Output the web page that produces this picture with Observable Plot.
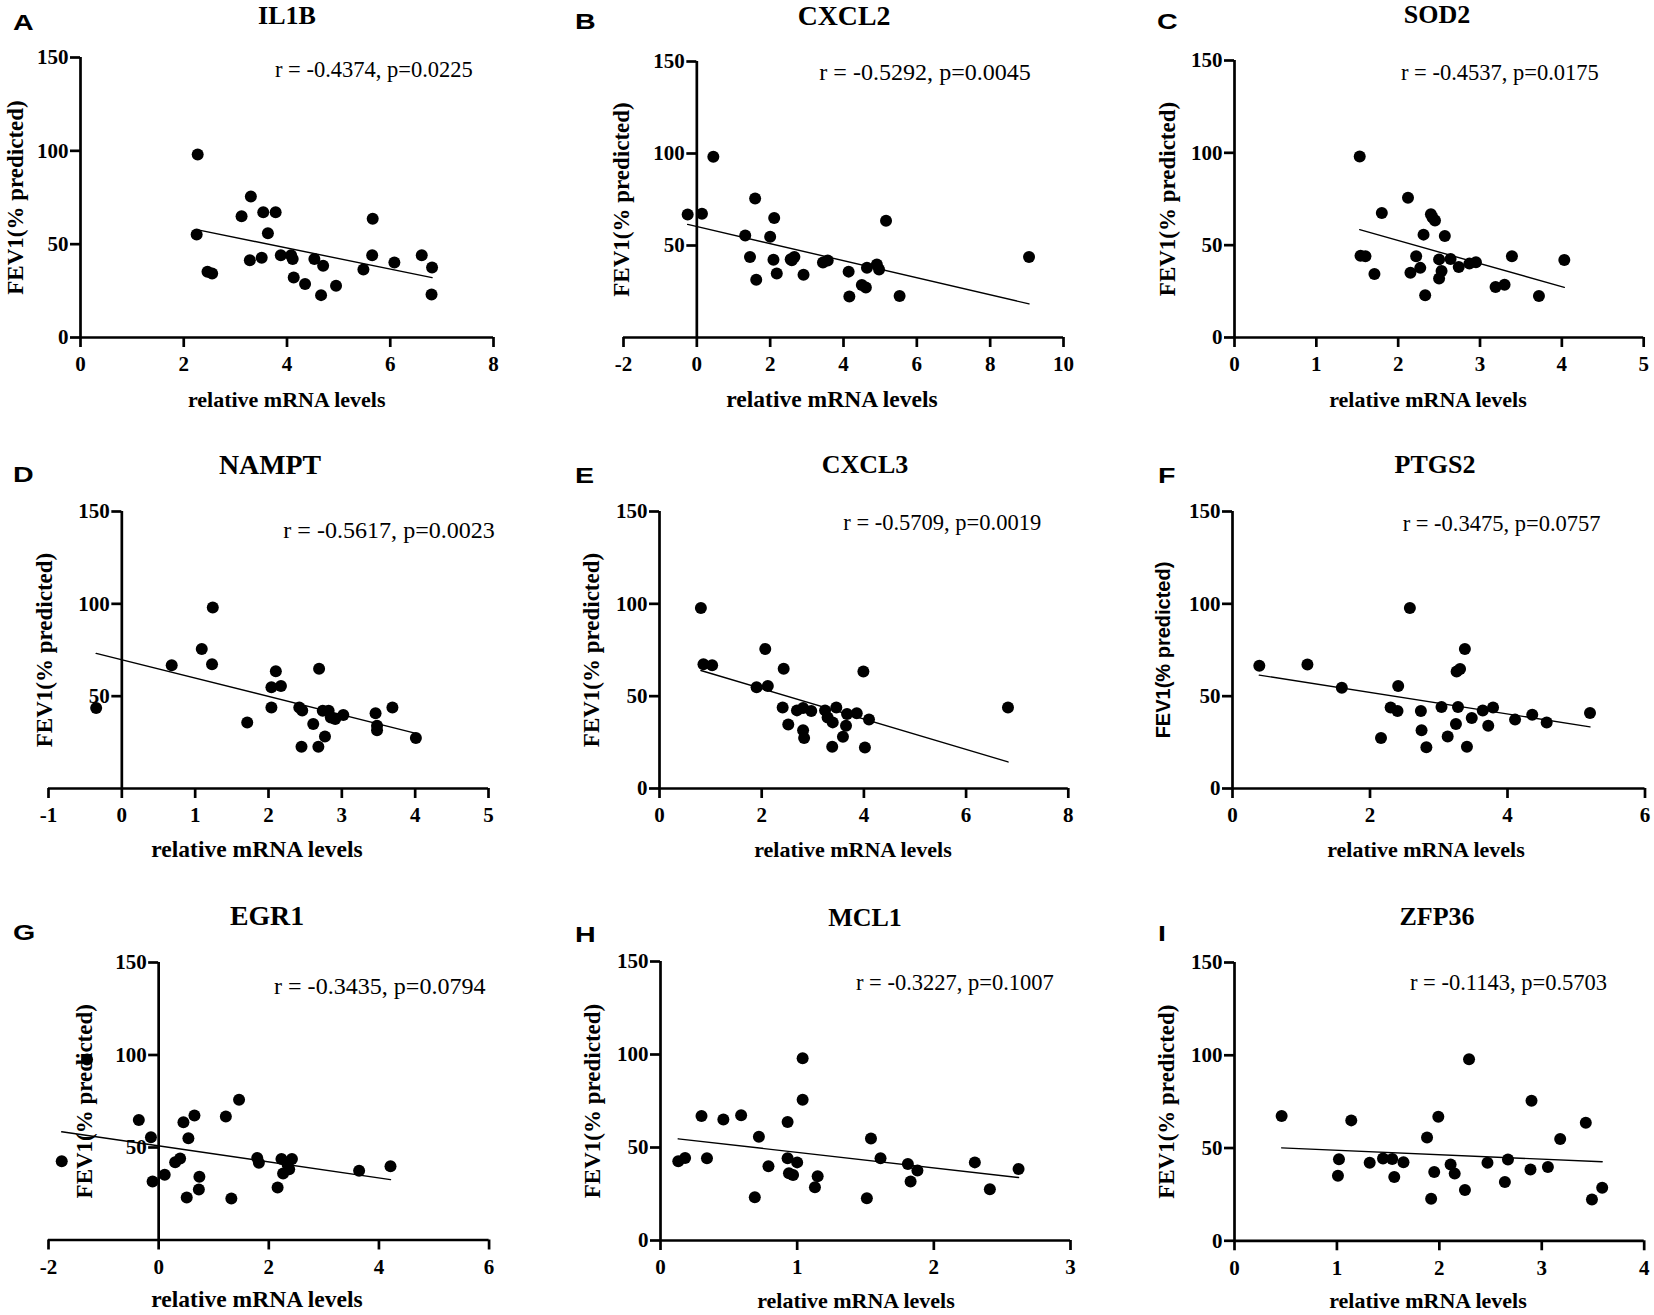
<!DOCTYPE html>
<html><head><meta charset="utf-8">
<script src="https://cdn.jsdelivr.net/npm/d3@7"></script>
<script src="https://cdn.jsdelivr.net/npm/@observablehq/plot@0.6"></script>
<style>
body{margin:0;background:#fff;}
#fig{position:relative;width:1654px;height:1315px;overflow:hidden;background:#fff;}
.t{position:absolute;white-space:nowrap;line-height:0.8;color:#000;margin:0;}
.serif{font-family:"Liberation Serif","Times New Roman",serif;}
.sans{font-family:"Liberation Sans",Arial,sans-serif;}
</style></head><body><div id="fig"></div><script>
// ---------- data ----------
const IL1B_x = [2.27,2.25,2.46,2.55,3.12,3.30,3.28,3.54,3.78,3.63,3.51,3.88,4.08,4.11,4.13,4.35,4.53,4.70,4.66,4.95,5.48,5.66,5.65,6.08,6.61,6.81,6.80];
const IL1B_y = [98.0,55.2,35.2,34.3,65.0,75.5,41.4,67.1,67.1,55.9,42.7,44.1,44.1,42.1,32.1,28.6,42.1,38.4,22.7,27.7,36.4,63.6,44.1,40.2,44.1,37.5,23.0];
const CXCL2_x = [-0.25,0.14,0.45,1.32,1.59,1.45,1.62,2.00,2.11,2.09,2.18,2.56,2.66,2.59,2.91,3.44,3.57,4.14,4.16,4.50,4.61,4.64,4.91,4.97,5.16,5.53,9.06];
const CXCL2_y = [66.8,67.2,98.2,55.4,75.5,43.7,31.4,54.8,65.0,42.3,34.8,42.5,43.7,42.0,34.1,40.7,41.9,35.8,22.3,28.5,27.2,37.9,39.7,37.0,63.5,22.5,43.7];
const SOD2_x = [1.53,1.54,1.60,1.71,1.80,2.12,2.22,2.15,2.27,2.31,2.33,2.40,2.42,2.45,2.50,2.53,2.50,2.57,2.64,2.74,2.87,2.95,3.19,3.30,3.39,3.72,4.03];
const SOD2_y = [98.0,44.3,44.0,34.4,67.4,75.7,44.0,35.1,37.7,55.7,22.9,66.8,65.0,63.4,42.3,36.0,31.9,55.0,42.5,38.2,40.0,40.7,27.4,28.5,44.0,22.5,42.0];
const NAMPT_x = [-0.35,0.68,1.09,1.23,1.24,1.71,2.04,2.04,2.10,2.17,2.42,2.46,2.45,2.61,2.68,2.69,2.74,2.82,2.77,2.85,2.91,3.02,3.46,3.48,3.48,3.69,4.01];
const NAMPT_y = [43.6,66.7,75.6,67.3,98.0,35.8,54.8,43.8,63.5,55.5,43.8,42.3,22.6,34.9,22.6,64.9,42.1,42.1,28.2,38.5,37.6,39.8,40.7,34.0,31.6,43.9,27.3];
const CXCL3_x = [0.81,0.86,1.03,1.90,2.07,2.12,2.43,2.41,2.52,2.69,2.81,2.81,2.83,2.97,3.24,3.29,3.39,3.38,3.46,3.59,3.65,3.67,3.86,3.99,4.02,4.10,6.82];
const CXCL3_y = [97.8,67.3,66.7,54.8,75.6,55.5,64.9,43.8,34.7,42.3,43.6,31.6,27.3,42.0,42.3,38.5,35.8,22.6,43.9,28.0,34.0,40.3,40.7,63.3,22.2,37.3,43.9];
const PTGS2_x = [0.39,1.09,1.59,2.16,2.30,2.40,2.41,2.58,2.74,2.75,2.82,3.04,3.13,3.25,3.26,3.31,3.28,3.38,3.41,3.48,3.64,3.72,3.79,4.11,4.36,4.57,5.20];
const PTGS2_y = [66.5,67.1,54.6,27.3,43.8,42.0,55.5,97.8,42.0,31.6,22.4,44.1,28.2,34.9,63.3,64.7,44.1,75.6,22.6,38.2,42.3,34.0,43.9,37.3,40.0,35.8,40.9];
const EGR1_x = [-1.76,-1.30,-0.36,-0.14,-0.11,0.11,0.30,0.39,0.45,0.54,0.51,0.65,0.73,0.74,1.22,1.32,1.46,1.79,1.82,2.16,2.23,2.26,2.34,2.37,2.42,3.64,4.21];
const EGR1_y = [42.5,97.5,64.9,55.5,31.6,35.3,42.0,44.1,63.7,55.0,23.0,67.3,27.3,34.2,66.7,22.4,75.8,44.3,41.8,28.4,43.8,36.0,41.0,38.3,43.8,37.4,39.8];
const MCL1_x = [0.13,0.18,0.30,0.34,0.46,0.59,0.72,0.69,0.79,0.93,0.93,0.94,0.97,1.00,1.04,1.04,1.13,1.15,1.51,1.54,1.61,1.81,1.83,1.88,2.30,2.41,2.62];
const MCL1_y = [42.6,44.4,66.9,44.2,65.1,67.4,55.8,23.3,39.9,63.7,44.2,36.1,35.2,42.0,98.0,75.7,28.6,34.5,22.7,54.9,44.2,41.1,31.7,37.6,42.0,27.5,38.5];
const ZFP36_x = [0.46,1.02,1.01,1.14,1.32,1.45,1.54,1.56,1.65,1.88,1.92,1.95,1.99,2.11,2.15,2.25,2.29,2.47,2.64,2.67,2.89,2.90,3.06,3.18,3.43,3.49,3.59];
const ZFP36_y = [67.2,44.0,35.1,64.9,42.0,44.3,44.1,34.4,42.3,55.7,22.7,37.1,66.8,41.1,36.2,27.4,97.8,42.0,31.7,43.8,38.4,75.5,39.8,54.8,63.6,22.3,28.6];

const genes = ["IL1B","CXCL2","SOD2","NAMPT","CXCL3","PTGS2","EGR1","MCL1","ZFP36"];
const letters = ["A","B","C","D","E","F","G","H","I"];
const stats = ["r = -0.4374, p=0.0225","r = -0.5292, p=0.0045","r = -0.4537, p=0.0175",
               "r = -0.5617, p=0.0023","r = -0.5709, p=0.0019","r = -0.3475, p=0.0757",
               "r = -0.3435, p=0.0794","r = -0.3227, p=0.1007","r = -0.1143, p=0.5703"];
const xDomains = [[0,8],[-2,10],[0,5],[-1,5],[0,8],[0,6],[-2,6],[0,3],[0,4]];
const xTicks = [[0,2,4,6,8],[-2,0,2,4,6,8,10],[0,1,2,3,4,5],[-1,0,1,2,3,4,5],[0,2,4,6,8],[0,2,4,6],[-2,0,2,4,6],[0,1,2,3],[0,1,2,3,4]];
const yTicksFull = [0,50,100,150];
const yTicksNoZero = [50,100,150];
const yDomain = [0,150];
const xTitle = "relative mRNA levels";
const yTitle = "FEV1(% predicted)";
const seriesX = [IL1B_x,CXCL2_x,SOD2_x,NAMPT_x,CXCL3_x,PTGS2_x,EGR1_x,MCL1_x,ZFP36_x];
const seriesY = [IL1B_y,CXCL2_y,SOD2_y,NAMPT_y,CXCL3_y,PTGS2_y,EGR1_y,MCL1_y,ZFP36_y];

// ---------- layout (pixels) ----------
const layout = [
  {xmin:80,   xmax:493,    top:57,  bot:337,  s:1,    yt:yTicksFull,   ytDx:-65, ytSans:false, letter:[12.7,30],   title:[287,25],   stat:[275,77.3],   xt:[286.7,407]},
  {xmin:623.3,xmax:1063.3, top:61,  bot:337,  s:1.07, yt:yTicksNoZero, ytDx:-75, ytSans:false, letter:[575,29.3],  title:[844,25.5], stat:[819.3,81],   xt:[832,407]},
  {xmin:1234.3,xmax:1643.5,top:60,  bot:337,  s:1,    yt:yTicksFull,   ytDx:-67, ytSans:false, letter:[1156.7,29], title:[1437,24],  stat:[1401,80.7],  xt:[1428,407]},
  {xmin:48.3, xmax:488.3,  top:511, bot:788,  s:1.07, yt:yTicksNoZero, ytDx:-77, ytSans:false, letter:[13.3,482],  title:[270,475],  stat:[283.3,538.3],xt:[257,857]},
  {xmin:659.3,xmax:1068.1, top:511, bot:788,  s:1,    yt:yTicksFull,   ytDx:-67.5,ytSans:false,letter:[575,483],   title:[865,474],  stat:[843.3,531],  xt:[853,857]},
  {xmin:1231.7,xmax:1644.2,top:511, bot:788,  s:1,    yt:yTicksFull,   ytDx:-69, ytSans:true,  letter:[1157.7,483],title:[1435,474], stat:[1402.7,531.7],xt:[1426,857]},
  {xmin:47.7, xmax:488.3,  top:962, bot:1239.5,s:1.07,yt:yTicksNoZero, ytDx:-74, ytSans:false, letter:[13.3,940],  title:[267,926],  stat:[274,995],    xt:[257,1307.5]},
  {xmin:660,  xmax:1070,   top:961, bot:1240, s:1,    yt:yTicksFull,   ytDx:-68, ytSans:false, letter:[575,942],   title:[865,927],  stat:[856,990.7],  xt:[856,1308]},
  {xmin:1234.3,xmax:1644,  top:962, bot:1240.3,s:1,   yt:yTicksFull,   ytDx:-68, ytSans:false, letter:[1158.3,941],title:[1437,926], stat:[1410,990.7], xt:[1428,1308]}
];

const SERIF = "'Liberation Serif','Times New Roman',serif";
const SANS = "'Liberation Sans',Arial,sans-serif";
const fig = document.getElementById("fig");

function addText(txt, x, base, size, fam, weight, center, stretch) {
  const d = document.createElement("div");
  d.className = "t " + fam;
  d.textContent = txt;
  const k = fam === "sans" ? 0.7465 : 0.7375;
  d.style.fontSize = size + "px";
  d.style.fontWeight = weight;
  d.style.left = x + "px";
  d.style.top = (base - k * size) + "px";
  if (center) d.style.transform = "translateX(-50%)";
  if (stretch) { d.style.transformOrigin = "left bottom"; d.style.transform = `scaleX(${stretch})`; }
  fig.appendChild(d);
}

layout.forEach((p, i) => {
  const dom = xDomains[i];
  const data = seriesX[i].map((x, j) => ({x, y: seriesY[i][j]}));
  const zeroPx = p.xmin + (0 - dom[0]) / (dom[1] - dom[0]) * (p.xmax - p.xmin);
  const ML = Math.max(95, zeroPx - p.xmin + 30), MR = 30, MT = 20, MB = 50;
  const W = ML + (p.xmax - zeroPx) + MR;
  const H = MT + (p.bot - p.top) + MB;
  const AW = 2.7;
  const svg = Plot.plot({
    width: W, height: H,
    marginLeft: ML, marginRight: MR, marginTop: MT, marginBottom: MB,
    style: {fontFamily: SERIF, color: "black", background: "transparent", overflow: "visible"},
    x: {domain: dom, range: [ML - (zeroPx - p.xmin), ML + (p.xmax - zeroPx)]},
    y: {domain: yDomain},
    marks: [
      Plot.axisX({ticks: xTicks[i], tickSize: 10, tickPadding: 9, strokeWidth: AW, fontSize: 21, fontWeight: "bold", tickFormat: d => String(d), label: null}),
      Plot.axisY({ticks: p.yt, anchor: "left", tickSize: 10, tickPadding: 2, strokeWidth: AW, fontSize: 21, fontWeight: "bold", tickFormat: d => String(d), label: null}),
      Plot.ruleY([0], {x1: dom[0], x2: dom[1], stroke: "black", strokeWidth: AW}),
      Plot.ruleX([0], {y1: yDomain[0], y2: yDomain[1], stroke: "black", strokeWidth: AW}),
      Plot.text([yTitle], {text: d => d, frameAnchor: "left", textAnchor: "middle", lineAnchor: "middle", dx: p.ytDx, rotate: -90,
        fontSize: p.ytSans ? 20 : 23, fontWeight: "bold", fontFamily: p.ytSans ? SANS : SERIF, fill: "black"}),
      Plot.linearRegressionY(data, {x: "x", y: "y", ci: 0, stroke: "black", strokeWidth: 1.4}),
      Plot.dot(data, {x: "x", y: "y", r: 6, fill: "black", stroke: "none"})
    ]
  });
  svg.style.position = "absolute";
  svg.style.left = (zeroPx - ML) + "px";
  svg.style.top = (p.top - MT) + "px";
  svg.style.maxWidth = "none";
  fig.appendChild(svg);
});

layout.forEach((p, i) => {
  addText(letters[i], p.letter[0], p.letter[1], 22, "sans", "bold", false, 1.3);
  addText(genes[i], p.title[0], p.title[1], 26 * p.s, "serif", "bold", true);
  addText(stats[i], p.stat[0], p.stat[1], 22.5 * p.s, "serif", "normal", false);
  addText(xTitle, p.xt[0], p.xt[1], 22 * p.s, "serif", "bold", true);
});
</script></body></html>
